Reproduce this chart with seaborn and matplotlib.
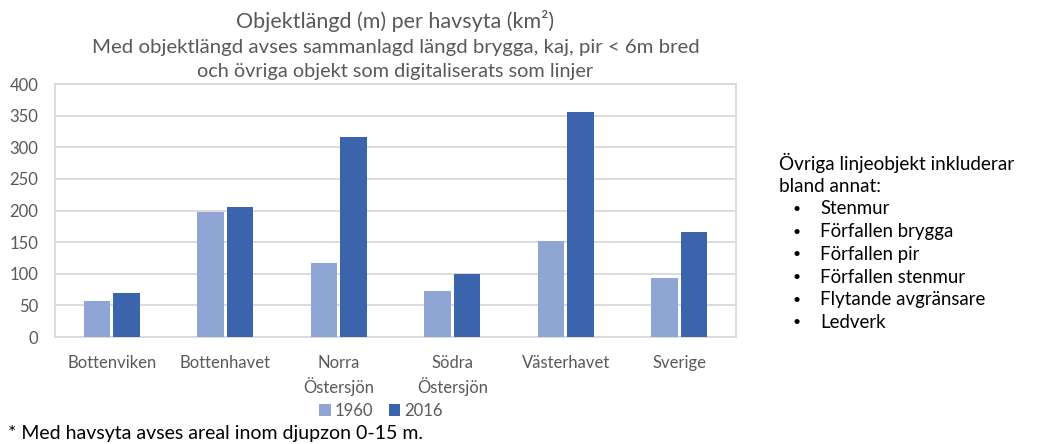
import matplotlib
matplotlib.use("Agg")
import matplotlib.pyplot as plt
from matplotlib.patches import Patch
import seaborn as sns
import pandas as pd

regions = ["Bottenviken", "Bottenhavet", "Norra\nÖstersjön", "Södra\nÖstersjön", "Västerhavet", "Sverige"]
years = ["1960", "2016"]
values_1960 = [57, 198, 117, 72, 151, 94]
values_2016 = [70, 205, 316, 100, 356, 166]
y_ticks = [0, 50, 100, 150, 200, 250, 300, 350, 400]
bullet_items = ["Stenmur", "Förfallen brygga", "Förfallen pir", "Förfallen stenmur",
                "Flytande avgränsare", "Ledverk"]

df = pd.DataFrame({
    "region": regions * 2,
    "year": [years[0]] * len(regions) + [years[1]] * len(regions),
    "value": values_1960 + values_2016,
})

sns.set_theme(style="white")
plt.rcParams["font.family"] = ["Lato", "DejaVu Sans"]

W, H = 1041, 444
fig = plt.figure(figsize=(W / 100, H / 100), dpi=100)
fig.patch.set_facecolor("white")

ax_l, ax_r, ax_t, ax_b = 55, 736, 84, 337
ax = fig.add_axes([ax_l / W, 1 - ax_b / H, (ax_r - ax_l) / W, (ax_b - ax_t) / H])

palette = {"1960": "#8FA5D4", "2016": "#3B64AD"}
sns.barplot(data=df, x="region", y="value", hue="year", palette=palette,
            width=0.52, gap=0.1, ax=ax, legend=False, saturation=1,
            edgecolor="none", zorder=3)

grey = "#595959"
grid = "#D9D9D9"
ax.set_ylim(0, 400)
ax.set_yticks(y_ticks)
ax.yaxis.grid(True, color=grid, linewidth=1.3, zorder=0)
ax.set_axisbelow(True)
for s in ax.spines.values():
    s.set_color(grid)
    s.set_linewidth(1.3)
    s.set_visible(True)
ax.tick_params(axis="both", length=0, labelsize=12, labelcolor=grey)
ax.tick_params(axis="x", pad=13)
ax.tick_params(axis="y", pad=12)
for lbl in ax.get_xticklabels():
    lbl.set_linespacing(1.4)
ax.set_xlabel("")
ax.set_ylabel("")

cx = (ax_l + ax_r) / 2 / W
fig.text(cx, 1 - 21 / H, "Objektlängd (m) per havsyta (km²)", ha="center", va="center",
         fontsize=15.5, color=grey)
fig.text(cx, 1 - 47 / H, "Med objektlängd avses sammanlagd längd brygga, kaj, pir < 6m bred",
         ha="center", va="center", fontsize=14.7, color=grey)
fig.text(cx, 1 - 72 / H, "och övriga objekt som digitaliserats som linjer",
         ha="center", va="center", fontsize=14.3, color=grey)

handles = [Patch(facecolor=palette[y], edgecolor="none", label=y) for y in years]
fig.legend(handles=handles, loc="center", bbox_to_anchor=(381 / W, 1 - 411 / H), ncol=2,
           frameon=False, fontsize=12, labelcolor=grey, handlelength=0.7,
           handleheight=0.7, handletextpad=0.25, columnspacing=0.9)

fig.text(8 / W, 1 - 433 / H, "* Med havsyta avses areal inom djupzon 0-15 m.",
         ha="left", va="center", fontsize=14, color="black")

fig.text(779 / W, 1 - 163 / H, "Övriga linjeobjekt inkluderar", ha="left", va="center",
         fontsize=13.6, color="black")
fig.text(779 / W, 1 - 186 / H, "bland annat:", ha="left", va="center",
         fontsize=13.6, color="black")
for i, item in enumerate(bullet_items):
    y = 1 - (209 + i * 22.7) / H
    fig.text(792 / W, y, "•", ha="left", va="center", fontsize=10, color="black")
    fig.text(820 / W, y, item, ha="left", va="center", fontsize=13.4, color="black")

fig.savefig("out.png", dpi=100, facecolor="white")
